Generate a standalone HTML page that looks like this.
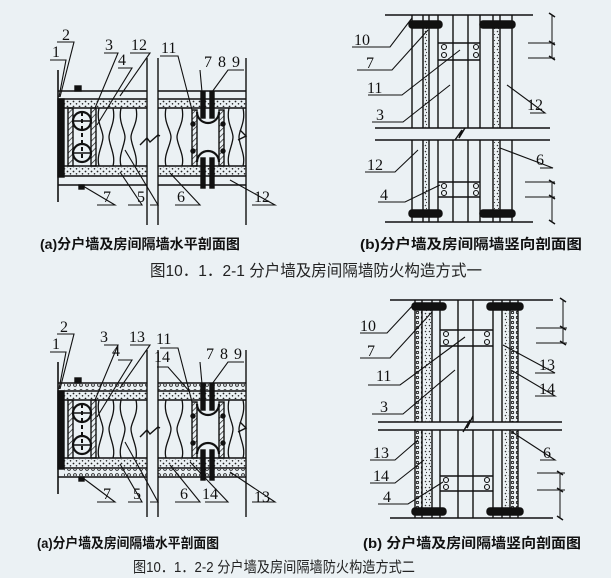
<!DOCTYPE html>
<html><head><meta charset="utf-8"><style>
html,body{margin:0;padding:0;background:#ebf1f4;}
svg{display:block}
text{font-family:"Liberation Serif","Noto Serif CJK SC",serif;fill:#111}
.c{font-family:"Liberation Sans","Noto Sans CJK SC",sans-serif;font-weight:bold}
.t{font-family:"Liberation Sans","Noto Sans CJK SC",sans-serif;fill:#222}
</style></head><body>
<svg width="611" height="578" viewBox="0 0 611 578" xmlns="http://www.w3.org/2000/svg">
<defs>
<pattern id="h" width="4" height="4" patternUnits="userSpaceOnUse" patternTransform="rotate(45)"><line x1="0" y1="0" x2="0" y2="4" stroke="#111" stroke-width="1.3"/></pattern>
<pattern id="d" width="6" height="5" patternUnits="userSpaceOnUse"><circle cx="1.5" cy="1.5" r="0.9" fill="#222"/><circle cx="4.5" cy="3.8" r="0.8" fill="#222"/></pattern>
<pattern id="dv" width="4" height="6" patternUnits="userSpaceOnUse"><circle cx="1.5" cy="1.5" r="0.8" fill="#333"/><circle cx="2.5" cy="4.5" r="0.6" fill="#333"/></pattern>
<pattern id="ob" width="6" height="6" patternUnits="userSpaceOnUse"><circle cx="3" cy="3" r="1.4" fill="none" stroke="#111" stroke-width="0.8"/></pattern>
<pattern id="obv" width="5" height="5" patternUnits="userSpaceOnUse"><circle cx="2.5" cy="2.5" r="1.2" fill="none" stroke="#111" stroke-width="0.8"/></pattern>

<g id="hsec" stroke="#111" fill="none" stroke-width="1.4">
  <line x1="58" y1="70" x2="58" y2="202" stroke-width="1.6"/>
  <rect x="58" y="99" width="6" height="78" fill="#111"/>
  <rect x="59" y="112" width="4" height="50" fill="url(#h)" stroke="none"/>
  <line x1="58" y1="91" x2="147" y2="91"/><line x1="158" y1="91" x2="246" y2="91"/>
  <line x1="58" y1="99" x2="147" y2="99"/><line x1="158" y1="99" x2="246" y2="99"/>
  <rect x="64" y="100" width="83" height="7" fill="url(#d)" stroke="none"/>
  <rect x="158" y="100" width="88" height="7" fill="url(#d)" stroke="none"/>
  <line x1="64" y1="108" x2="147" y2="108"/><line x1="158" y1="108" x2="246" y2="108"/>
  <line x1="64" y1="166" x2="147" y2="166"/><line x1="158" y1="166" x2="246" y2="166"/>
  <rect x="64" y="167" width="83" height="8" fill="url(#d)" stroke="none"/>
  <rect x="158" y="167" width="88" height="8" fill="url(#d)" stroke="none"/>
  <line x1="58" y1="176" x2="147" y2="176"/><line x1="158" y1="176" x2="246" y2="176"/>
  <line x1="58" y1="185" x2="147" y2="185"/><line x1="158" y1="185" x2="246" y2="185"/>
  <line x1="147" y1="58" x2="147" y2="225"/><line x1="158" y1="58" x2="158" y2="225"/>
  <line x1="246" y1="58" x2="246" y2="225"/>
  <polyline points="140,145 147,138 150,142 158,135 160,136"/>
  <polyline points="238,140 246,136 240,130" />
  <rect x="68" y="108" width="5" height="58" fill="url(#h)"/>
  <rect x="91" y="108" width="5" height="58" fill="url(#h)"/>
  <circle cx="82" cy="121" r="9" fill="#ebf1f4" stroke-width="2.2"/>
  <circle cx="82" cy="153" r="9" fill="#ebf1f4" stroke-width="2.2"/>
  <line x1="82" y1="112" x2="82" y2="162" stroke-width="2" stroke-dasharray="4,3"/>
  <line x1="73" y1="121" x2="91" y2="121" stroke-width="1.5"/>
  <line x1="73" y1="153" x2="91" y2="153" stroke-width="1.5"/>
  <rect x="75" y="86" width="6" height="5" fill="#111"/>
  <rect x="79" y="185" width="5" height="4" fill="#111"/>
  <rect x="192" y="110" width="5" height="56" fill="url(#h)"/>
  <rect x="219" y="110" width="5" height="56" fill="url(#h)"/>
  <path d="M197,112 A11,11 0 0 0 219,112" stroke-width="2.2"/>
  <path d="M197,162 A11,11 0 0 1 219,162" stroke-width="2.2"/>
  <rect x="201" y="92" width="4" height="26" fill="#111"/>
  <rect x="210" y="92" width="4" height="26" fill="#111"/>
  <rect x="201" y="158" width="4" height="30" fill="#111"/>
  <rect x="210" y="158" width="4" height="30" fill="#111"/>
  <circle cx="193" cy="124" r="2" fill="#111"/><circle cx="223" cy="124" r="2" fill="#111"/>
  <circle cx="193" cy="151" r="2" fill="#111"/><circle cx="223" cy="151" r="2" fill="#111"/>
  <g stroke-width="1.3">
  <path d="M99,108 C96,122 103,130 103,137 C103,145 96,155 99,166 M113,108 C116,122 109,130 109,137 C109,145 116,155 113,166"/>
  <path d="M121,108 C118,122 125,130 125,137 C125,145 118,155 121,166 M136,108 C139,122 131,130 131,137 C131,145 138,155 136,166"/>
  <path d="M166,108 C163,122 171,130 171,137 C171,145 163,155 166,166 M182,108 C185,122 177,130 177,137 C177,145 185,155 182,166"/>
  <path d="M229,108 C226,122 233,130 233,137 C233,145 226,155 229,166 M243,108 C246,122 239,130 239,137 C239,145 246,155 243,166"/>
  </g>
</g>
</defs>

<use href="#hsec"/>
<g stroke="#111" stroke-width="1.1" fill="none">
  <polyline points="57,42 74,42 60,97"/>
  <polyline points="50,60 66,60 59,97"/>
  <polyline points="104,53 118,53 95,108"/>
  <polyline points="130,53 150,53 120,96"/>
  <polyline points="118,68 132,68 97,125"/>
  <polyline points="160,56 178,56 192,110"/>
  <line x1="202" y1="92" x2="200" y2="70"/>
  <polyline points="212,92 228,70 244,70"/>
  <polyline points="128,205 142,205 120,172"/>
  <polyline points="150,205 158,205 125,150"/>
  <polyline points="175,205 200,205 170,173"/>
  <polyline points="252,205 275,205 230,180"/>
  <polyline points="97,205 115,205 83,186"/>
</g>
<g font-size="16">
  <text x="62" y="40">2</text><text x="52" y="57">1</text>
  <text x="105" y="50">3</text><text x="131" y="50">12</text>
  <text x="118" y="65">4</text><text x="161" y="53">11</text>
  <text x="204" y="67">7</text><text x="218" y="67">8</text><text x="232" y="67">9</text>
  <text x="103" y="202">7</text><text x="137" y="202">5</text>
  <text x="177" y="202">6</text><text x="254" y="202">12</text>
</g>

<g stroke="#111" fill="none" stroke-width="1.4">
  <line x1="385" y1="15" x2="533" y2="15"/><line x1="385" y1="222" x2="533" y2="222"/>
  <line x1="375" y1="128" x2="550" y2="128"/><line x1="375" y1="140" x2="550" y2="140"/>
  <polyline points="455,140 462,130 459,138 465,128"/>
  <g>
   <line x1="412" y1="15" x2="412" y2="128"/><line x1="412" y1="140" x2="412" y2="222"/>
   <line x1="423" y1="15" x2="423" y2="128"/><line x1="423" y1="140" x2="423" y2="222"/>
   <line x1="429" y1="15" x2="429" y2="128"/><line x1="429" y1="140" x2="429" y2="222"/>
   <line x1="438" y1="15" x2="438" y2="128"/><line x1="438" y1="140" x2="438" y2="222"/>
   <line x1="453" y1="15" x2="453" y2="128"/><line x1="453" y1="140" x2="453" y2="222"/>
   <line x1="468" y1="15" x2="468" y2="128"/><line x1="468" y1="140" x2="468" y2="222"/>
   <line x1="480" y1="15" x2="480" y2="128"/><line x1="480" y1="140" x2="480" y2="222"/>
   <line x1="493" y1="15" x2="493" y2="128"/><line x1="493" y1="140" x2="493" y2="222"/>
   <line x1="500" y1="15" x2="500" y2="128"/><line x1="500" y1="140" x2="500" y2="222"/>
   <line x1="512" y1="15" x2="512" y2="128"/><line x1="512" y1="140" x2="512" y2="222"/>
  </g>
  <rect x="424" y="28" width="5" height="100" fill="url(#dv)" stroke="none"/>
  <rect x="424" y="140" width="5" height="72" fill="url(#dv)" stroke="none"/>
  <rect x="494" y="28" width="5" height="100" fill="url(#dv)" stroke="none"/>
  <rect x="494" y="140" width="5" height="72" fill="url(#dv)" stroke="none"/>
  <rect x="409" y="21" width="33" height="7" rx="3" fill="#111"/>
  <rect x="480" y="21" width="35" height="7" rx="3" fill="#111"/>
  <rect x="409" y="210" width="33" height="7" rx="3" fill="#111"/>
  <rect x="480" y="210" width="35" height="7" rx="3" fill="#111"/>
  <line x1="438" y1="43" x2="480" y2="43"/><line x1="438" y1="60" x2="480" y2="60"/>
  <line x1="438" y1="182" x2="480" y2="182"/><line x1="438" y1="197" x2="480" y2="197"/>
  <g stroke-width="1.1"><circle cx="444" cy="47" r="2.5"/><circle cx="444" cy="55" r="2.5"/><circle cx="476" cy="47" r="2.5"/><circle cx="476" cy="55" r="2.5"/>
  <circle cx="444" cy="186" r="2.5"/><circle cx="444" cy="193" r="2.5"/><circle cx="476" cy="186" r="2.5"/><circle cx="476" cy="193" r="2.5"/></g>
  <line x1="552" y1="15" x2="552" y2="58" stroke-width="1"/><line x1="552" y1="182" x2="552" y2="222" stroke-width="1"/>
  <line x1="528" y1="43" x2="555" y2="43" stroke-width="1"/><line x1="528" y1="58" x2="555" y2="58" stroke-width="1"/>
  <line x1="525" y1="182" x2="555" y2="182" stroke-width="1"/><line x1="525" y1="197" x2="555" y2="197" stroke-width="1"/>
  <g stroke-width="1.5"><line x1="549" y1="13" x2="555" y2="17"/><line x1="549" y1="41" x2="555" y2="45"/><line x1="549" y1="56" x2="555" y2="60"/>
  <line x1="549" y1="180" x2="555" y2="184"/><line x1="549" y1="195" x2="555" y2="199"/><line x1="549" y1="220" x2="555" y2="224"/></g>
</g>
<g stroke="#111" stroke-width="1.1" fill="none">
  <polyline points="352,47 390,47 412,18"/>
  <polyline points="357,70 392,70 428,30"/>
  <polyline points="368,95 402,95 460,50"/>
  <polyline points="372,122 403,122 450,85"/>
  <polyline points="530,113 545,113 507,85"/>
  <polyline points="365,172 395,172 418,150"/>
  <polyline points="378,202 405,202 440,185"/>
  <polyline points="540,168 553,168 500,148"/>
</g>
<g font-size="16">
  <text x="354" y="45">10</text><text x="366" y="68">7</text><text x="367" y="93">11</text>
  <text x="376" y="120">3</text><text x="527" y="110">12</text><text x="367" y="170">12</text>
  <text x="380" y="200">4</text><text x="536" y="165">6</text>
</g>

<text class="c" x="40" y="249" font-size="14" textLength="200" lengthAdjust="spacingAndGlyphs">(a)分户墙及房间隔墙水平剖面图</text>
<text class="c" x="360" y="249" font-size="14" textLength="222" lengthAdjust="spacingAndGlyphs">(b)分户墙及房间隔墙竖向剖面图</text>
<text class="t" x="150" y="276" font-size="16" textLength="332" lengthAdjust="spacingAndGlyphs">图10．1．2-1  分户墙及房间隔墙防火构造方式一</text>

<g transform="translate(0,292)">
  <use href="#hsec"/>
  <rect x="64" y="92" width="83" height="6" fill="url(#ob)"/>
  <rect x="158" y="92" width="88" height="6" fill="url(#ob)"/>
  <rect x="64" y="177" width="83" height="7" fill="url(#ob)"/>
  <rect x="158" y="177" width="88" height="7" fill="url(#ob)"/>
  <g stroke="#111" stroke-width="1.1" fill="none">
    <polyline points="57,42 74,42 60,97"/>
    <polyline points="50,60 66,60 59,97"/>
    <polyline points="104,53 118,53 95,108"/>
    <polyline points="130,53 150,53 120,96"/>
    <polyline points="118,68 132,68 97,125"/>
    <polyline points="160,56 178,56 192,110"/>
    <polyline points="157,75 168,75 190,100"/>
    <line x1="202" y1="92" x2="200" y2="70"/>
    <polyline points="212,92 228,70 244,70"/>
    <polyline points="128,210 142,210 120,172"/>
    <polyline points="150,210 158,210 125,150"/>
    <polyline points="175,210 200,210 170,173"/>
    <polyline points="205,210 228,210 190,170"/>
    <polyline points="252,210 275,210 230,180"/>
    <polyline points="97,210 115,210 83,186"/>
  </g>
  <g font-size="16">
    <text x="60" y="40">2</text><text x="52" y="57">1</text>
    <text x="100" y="50">3</text><text x="129" y="50">13</text>
    <text x="112" y="64">4</text><text x="156" y="52">11</text>
    <text x="154" y="70">14</text>
    <text x="206" y="67">7</text><text x="220" y="67">8</text><text x="234" y="67">9</text>
    <text x="103" y="207">7</text><text x="133" y="207">5</text>
    <text x="180" y="207">6</text><text x="202" y="207">14</text><text x="254" y="210">13</text>
  </g>
</g>

<g stroke="#111" fill="none" stroke-width="1.4">
  <line x1="390" y1="300" x2="553" y2="300"/><line x1="390" y1="518" x2="553" y2="518"/>
  <line x1="378" y1="422" x2="562" y2="422"/><line x1="378" y1="430" x2="562" y2="430"/>
  <polyline points="463,432 470,420 467,428 473,416"/>
  <g>
   <line x1="415" y1="300" x2="415" y2="422"/><line x1="415" y1="430" x2="415" y2="518"/>
   <line x1="422" y1="300" x2="422" y2="422"/><line x1="422" y1="430" x2="422" y2="518"/>
   <line x1="432" y1="300" x2="432" y2="422"/><line x1="432" y1="430" x2="432" y2="518"/>
   <line x1="440" y1="300" x2="440" y2="422"/><line x1="440" y1="430" x2="440" y2="518"/>
   <line x1="458" y1="300" x2="458" y2="422"/><line x1="458" y1="430" x2="458" y2="518"/>
   <line x1="473" y1="300" x2="473" y2="422"/><line x1="473" y1="430" x2="473" y2="518"/>
   <line x1="493" y1="300" x2="493" y2="422"/><line x1="493" y1="430" x2="493" y2="518"/>
   <line x1="502" y1="300" x2="502" y2="422"/><line x1="502" y1="430" x2="502" y2="518"/>
   <line x1="510" y1="300" x2="510" y2="422"/><line x1="510" y1="430" x2="510" y2="518"/>
   <line x1="518" y1="300" x2="518" y2="422"/><line x1="518" y1="430" x2="518" y2="518"/>
  </g>
  <rect x="415" y="308" width="7" height="114" fill="url(#obv)" stroke="none"/>
  <rect x="415" y="430" width="7" height="78" fill="url(#obv)" stroke="none"/>
  <rect x="511" y="308" width="7" height="114" fill="url(#obv)" stroke="none"/>
  <rect x="511" y="430" width="7" height="78" fill="url(#obv)" stroke="none"/>
  <rect x="423" y="310" width="8" height="112" fill="url(#dv)" stroke="none"/>
  <rect x="423" y="430" width="8" height="78" fill="url(#dv)" stroke="none"/>
  <rect x="503" y="310" width="6" height="112" fill="url(#dv)" stroke="none"/>
  <rect x="503" y="430" width="6" height="78" fill="url(#dv)" stroke="none"/>
  <rect x="412" y="303" width="34" height="7" rx="3" fill="#111"/>
  <rect x="487" y="303" width="36" height="7" rx="3" fill="#111"/>
  <rect x="412" y="508" width="34" height="7" rx="3" fill="#111"/>
  <rect x="487" y="508" width="36" height="7" rx="3" fill="#111"/>
  <line x1="440" y1="330" x2="493" y2="330"/><line x1="440" y1="346" x2="493" y2="346"/>
  <line x1="440" y1="476" x2="493" y2="476"/><line x1="440" y1="491" x2="493" y2="491"/>
  <g stroke-width="1.1"><circle cx="446" cy="334" r="2.5"/><circle cx="446" cy="342" r="2.5"/><circle cx="487" cy="334" r="2.5"/><circle cx="487" cy="342" r="2.5"/>
  <circle cx="446" cy="480" r="2.5"/><circle cx="446" cy="487" r="2.5"/><circle cx="487" cy="480" r="2.5"/><circle cx="487" cy="487" r="2.5"/></g>
  <line x1="563" y1="300" x2="563" y2="344" stroke-width="1"/><line x1="560" y1="473" x2="560" y2="518" stroke-width="1"/>
  <line x1="536" y1="328" x2="567" y2="328" stroke-width="1"/><line x1="536" y1="343" x2="567" y2="343" stroke-width="1"/>
  <line x1="537" y1="473" x2="565" y2="473" stroke-width="1"/><line x1="537" y1="490" x2="565" y2="490" stroke-width="1"/>
  <g stroke-width="1.5"><line x1="560" y1="298" x2="566" y2="302"/><line x1="560" y1="326" x2="566" y2="330"/><line x1="560" y1="341" x2="566" y2="345"/>
  <line x1="557" y1="471" x2="563" y2="475"/><line x1="557" y1="488" x2="563" y2="492"/><line x1="557" y1="516" x2="563" y2="520"/></g>
</g>
<g stroke="#111" stroke-width="1.1" fill="none">
  <polyline points="360,333 387,333 415,303"/>
  <polyline points="360,358 390,358 432,312"/>
  <polyline points="368,385 400,385 465,337"/>
  <polyline points="372,414 403,414 455,370"/>
  <polyline points="535,373 555,373 503,345"/>
  <polyline points="535,396 555,396 511,370"/>
  <polyline points="370,460 395,460 418,440"/>
  <polyline points="370,483 395,483 424,460"/>
  <polyline points="378,504 408,504 443,482"/>
  <polyline points="540,460 555,460 512,432"/>
</g>
<g font-size="16">
  <text x="360" y="331">10</text><text x="367" y="356">7</text><text x="376" y="381">11</text>
  <text x="380" y="412">3</text><text x="539" y="370">13</text><text x="539" y="394">14</text>
  <text x="373" y="458">13</text><text x="373" y="481">14</text>
  <text x="383" y="502">4</text><text x="543" y="458">6</text>
</g>

<text class="c" x="37" y="548" font-size="14" textLength="182" lengthAdjust="spacingAndGlyphs">(a)分户墙及房间隔墙水平剖面图</text>
<text class="c" x="363" y="548" font-size="14" textLength="218" lengthAdjust="spacingAndGlyphs">(b) 分户墙及房间隔墙竖向剖面图</text>
<text class="t" x="133" y="572" font-size="15" textLength="282" lengthAdjust="spacingAndGlyphs">图10．1．2-2  分户墙及房间隔墙防火构造方式二</text>
</svg>
</body></html>
